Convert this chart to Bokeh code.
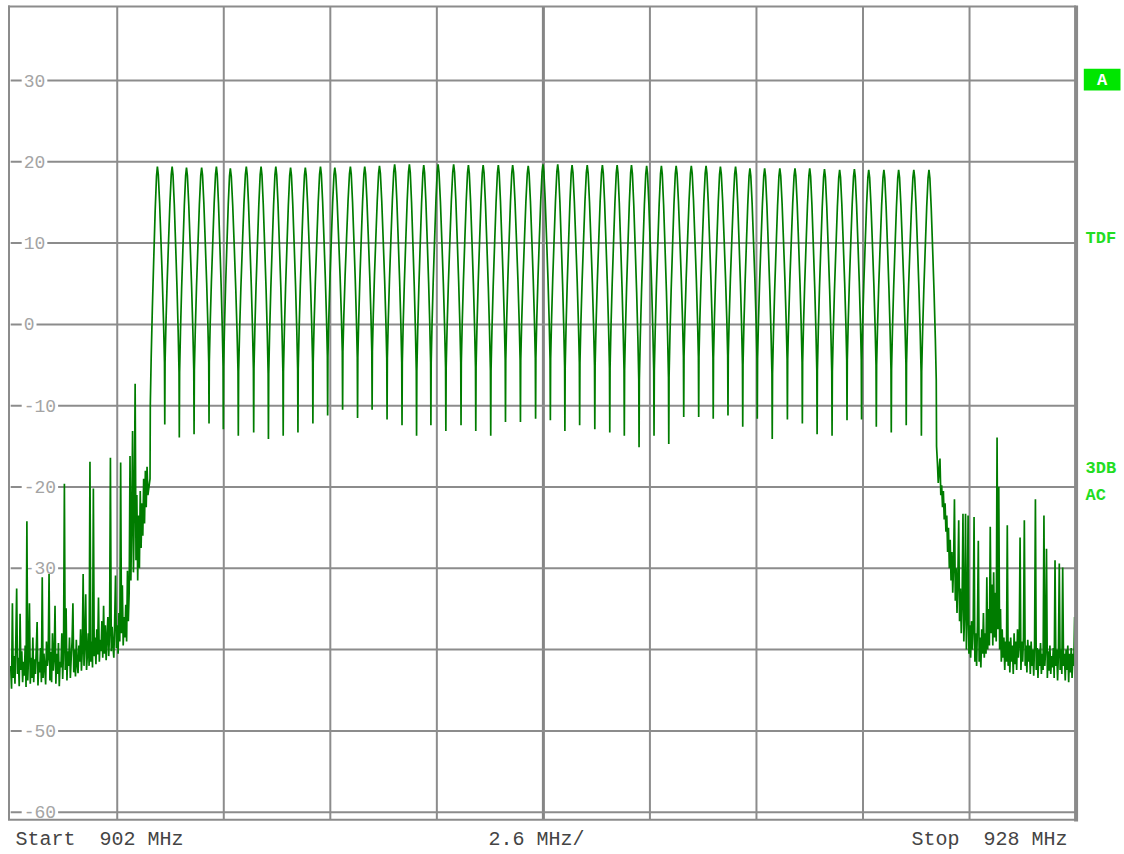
import numpy as np
from bokeh.plotting import figure
from bokeh.models import Range1d
from bokeh.core.properties import value
from bokeh.embed import file_html
from bokeh.resources import INLINE

# ---------------- data ----------------
f_start, f_stop = 902.0, 928.0
x_grid = [902.0, 904.6, 907.2, 909.8, 912.4, 915.0, 917.6, 920.2, 922.8, 925.4, 928.0]
y_ticks = [30, 20, 10, 0, -10, -20, -30, -50, -60]
y_tick_labels = ["30", "20", "10", "0", "-10", "-20", "-30", "-50", "-60"]
y_grid = [30, 20, 10, 0, -10, -20, -30, -40, -50, -60]

# channel centre frequencies (MHz) and peak levels (dB)
chan_mhz = [905.58, 905.94, 906.29, 906.66, 907.02, 907.36, 907.75, 908.11, 908.47, 908.83,
            909.19, 909.56, 909.91, 910.29, 910.64, 911.00, 911.37, 911.73, 912.08, 912.43,
            912.81, 913.17, 913.53, 913.90, 914.25, 914.63, 914.99, 915.35, 915.70, 916.07,
            916.44, 916.80, 917.15, 917.52, 917.88, 918.24, 918.61, 918.97, 919.32, 919.69,
            920.04, 920.40, 920.77, 921.14, 921.50, 921.86, 922.23, 922.59, 922.94, 923.31,
            923.67, 924.04, 924.41]
peak_db = [19.4, 19.4, 19.3, 19.3, 19.4, 19.2, 19.4, 19.4, 19.4, 19.3,
           19.3, 19.4, 19.3, 19.4, 19.4, 19.5, 19.7, 19.7, 19.6, 19.7,
           19.7, 19.6, 19.6, 19.6, 19.6, 19.5, 19.7, 19.7, 19.6, 19.6,
           19.6, 19.6, 19.6, 19.5, 19.5, 19.5, 19.5, 19.5, 19.4, 19.4,
           19.2, 19.2, 19.2, 19.2, 19.2, 19.1, 19.0, 19.1, 19.0, 19.0,
           19.0, 19.0, 19.0]
# nulls between neighbouring channels (dB)
null_db = [-12.3, -13.9, -13.5, -12.2, -12.9, -13.7, -13.3, -14.1, -13.7, -13.3,
           -12.2, -11.2, -10.5, -11.5, -10.5, -11.7, -12.4, -13.7, -12.4, -13.1,
           -12.4, -13.1, -13.7, -12.0, -12.0, -11.6, -11.8, -13.1, -12.4, -12.9,
           -13.3, -13.7, -15.1, -13.7, -14.7, -11.4, -11.4, -11.6, -11.2, -12.6,
           -11.6, -14.1, -11.7, -12.2, -13.5, -13.7, -11.8, -11.7, -12.6, -13.3,
           -12.4, -13.7]
edge_left_db = -19.0
edge_right_db = -15.0
# shape of one lobe: position (fraction of channel spacing) vs fraction of peak->null drop
lobe_pos = [0.06, 0.15, 0.25, 0.34, 0.42, 0.48]
lobe_frac = [0.03, 0.14, 0.30, 0.45, 0.61, 0.76]

sweep_step = 26.0 / 1250  # MHz between trace points
noise_left_db = [
    -42.0, -44.8, -34.3, -43.5, -40.8, -44.2, -39.0, -32.5, -43.0, -41.0,
    -44.5, -35.6, -42.5, -40.2, -44.0, -41.5, -43.2, -39.5, -44.6, -24.2,
    -43.8, -40.6, -34.3, -44.2, -41.0, -43.5, -38.5, -44.0, -41.2, -43.0,
    -40.0, -36.6, -44.4, -41.5, -42.8, -39.8, -44.0, -31.1, -43.5, -40.5,
    -42.2, -44.3, -39.0, -42.0, -41.0, -30.7, -43.8, -40.3, -44.0, -38.0,
    -42.6, -41.0, -34.6, -44.2, -40.5, -43.0, -39.2, -44.5, -41.5, -42.2,
    -38.0, -43.6, -40.0, -19.6, -42.5, -34.9, -43.8, -40.2, -42.0, -38.5,
    -43.5, -41.0, -39.0, -34.3, -42.8, -40.0, -43.3, -38.8, -41.8, -42.9,
    -39.5, -41.5, -37.5, -42.6, -40.0, -30.7, -42.0, -39.2, -33.2, -42.5,
    -40.5, -38.0, -42.0, -16.9, -41.5, -39.0, -42.2, -20.2, -40.8, -38.5,
    -41.8, -37.5, -40.6, -33.6, -41.5, -38.8, -40.2, -36.5, -41.0, -34.6,
    -40.5, -37.0, -41.3, -38.5, -36.0, -40.8, -38.0, -16.4, -40.2, -37.2,
    -39.5, -41.0, -36.5, -30.9, -39.8, -37.0, -40.5, -35.5, -39.0, -17.0,
    -38.0, -32.1, -39.5, -36.0, -38.5, -34.5, -39.0, -30.3, -36.5, -33.0,
    -16.2, -31.5, -24.0, -13.1, -30.5, -22.5, -7.3, -29.0, -21.0, -31.5,
    -23.5, -30.0, -20.5, -27.5, -22.0, -26.0, -19.0, -24.5, -18.0, -22.5,
    -17.5, -21.0]
noise_right_db = [
    -17.0, -19.5, -18.0, -16.5, -21.0, -19.8, -22.5, -20.5, -24.0, -22.0,
    -25.5, -23.5, -28.0, -25.0, -30.0, -26.5, -31.5, -28.0, -33.0, -29.5,
    -21.5, -34.0, -30.0, -35.5, -31.5, -24.1, -36.5, -32.5, -38.0, -34.0,
    -23.3, -39.0, -35.5, -23.3, -40.0, -36.0, -23.5, -40.5, -37.0, -41.0,
    -36.5, -40.0, -37.5, -23.7, -41.5, -38.0, -42.0, -37.0, -26.6, -41.5,
    -38.5, -42.2, -37.5, -40.5, -35.5, -41.0, -38.0, -40.5, -31.1, -40.0,
    -35.0, -39.5, -24.9, -38.0, -32.0, -39.5, -30.5, -38.5, -33.0, -39.0,
    -13.9, -37.5, -20.0, -40.0, -35.0, -41.5, -37.5, -41.0, -38.5, -42.5,
    -39.0, -41.5, -24.7, -42.0, -39.0, -42.8, -38.5, -41.5, -39.5, -43.0,
    -38.0, -41.8, -39.0, -42.5, -37.5, -41.0, -39.5, -26.2, -42.5, -39.0,
    -41.5, -38.5, -24.1, -42.0, -39.5, -42.8, -38.8, -41.5, -39.5, -43.0,
    -39.0, -42.0, -40.0, -43.2, -39.5, -21.5, -42.5, -39.8, -43.5, -40.0,
    -42.0, -39.2, -43.0, -40.5, -42.5, -23.5, -42.0, -40.0, -27.6, -43.5,
    -40.2, -42.6, -39.5, -43.0, -40.8, -42.2, -39.8, -43.5, -29.0, -42.0,
    -40.0, -43.8, -40.5, -29.4, -42.5, -40.0, -43.0, -29.9, -42.0, -40.5,
    -43.8, -40.0, -42.5, -39.5, -44.0, -40.5, -42.8, -39.8, -43.5, -40.5,
    -42.0, -36.0, -43.5, -40.5]

# ---------------- layout helpers (page pixels -> data) ----------------
W, H = 1124, 854
def px2x(px):
    return f_start + (px - 10.2) / 40.976
def py2y(py):
    return 30.0 - (py - 80.0) / 8.13

top_y = py2y(6)
bot_y = py2y(819.3)

p = figure(width=W, height=H, x_range=Range1d(px2x(0), px2x(W)),
           y_range=Range1d(py2y(H), py2y(0)),
           x_axis_type=None, y_axis_type=None, toolbar_location=None,
           output_backend="svg", min_border=0, outline_line_color=None,
           background_fill_color="white", border_fill_color="white")

GRID = "#8c8c8c"
# grid
inner_x = [v for v in x_grid[1:-1] if v != 915.0]
p.segment(x0=inner_x, y0=[bot_y] * len(inner_x), x1=inner_x, y1=[top_y] * len(inner_x),
          line_color=GRID, line_width=2)
p.segment(x0=[915.0], y0=[bot_y], x1=[915.0], y1=[top_y], line_color="#858585", line_width=3)
p.segment(x0=[f_start] * len(y_grid), y0=y_grid, x1=[f_stop] * len(y_grid), y1=y_grid,
          line_color=GRID, line_width=2)

# y tick labels inside the frame
p.text(x=[f_start] * len(y_ticks), y=y_ticks, text=y_tick_labels, x_offset=11,
       text_align="left", text_baseline="middle", text_font=value("Liberation Mono"),
       text_font_size="18px", text_color="#a4a4a4",
       background_fill_color="white", padding=2)

# ---------------- build trace ----------------
xs, ys = [], []
for i, v in enumerate(noise_left_db):
    xs.append(f_start + i * sweep_step)
    ys.append(v)
nulls = [edge_left_db] + null_db + [edge_right_db]
n = len(chan_mhz)
for k in range(n):
    c, P = chan_mhz[k], peak_db[k]
    hl = (c - chan_mhz[k - 1]) / 2 if k > 0 else (chan_mhz[1] - chan_mhz[0]) / 2
    hr = (chan_mhz[k + 1] - c) / 2 if k < n - 1 else (c - chan_mhz[k - 1]) / 2
    L, R = nulls[k], nulls[k + 1]
    if k == 0:
        xs.append(c - hl)
        ys.append(L)
    for pos, fr in reversed(list(zip(lobe_pos, lobe_frac))):
        xs.append(c - pos / 0.5 * hl)
        ys.append(P + (L - P) * fr)
    xs.append(c)
    ys.append(P)
    for pos, fr in zip(lobe_pos, lobe_frac):
        xs.append(c + pos / 0.5 * hr)
        ys.append(P + (R - P) * fr)
    xs.append(c + hr)
    ys.append(R)
x_last = xs[-1]
for j, v in enumerate(noise_right_db):
    xs.append(x_last + (j + 1) * sweep_step)
    ys.append(v)

p.line(xs, ys, line_color="#007c00", line_width=1.7, line_join="bevel")

# frame borders
p.segment(x0=[px2x(8.5)], y0=[bot_y], x1=[px2x(8.5)], y1=[py2y(5)], line_color=GRID, line_width=2)
p.segment(x0=[px2x(7.5)], y0=[top_y], x1=[f_stop], y1=[top_y], line_color=GRID, line_width=2)
p.segment(x0=[px2x(7.5)], y0=[bot_y], x1=[f_stop], y1=[bot_y], line_color=GRID, line_width=2)
p.segment(x0=[f_stop], y0=[py2y(821)], x1=[f_stop], y1=[py2y(5)], line_color="#8a8a8a", line_width=4)

# right side annotations
p.quad(left=[px2x(1083.3)], right=[px2x(1120)], top=[py2y(68.3)], bottom=[py2y(90)],
       fill_color="#00e600", line_color=None)
p.text(x=[px2x(1101.7)], y=[py2y(79.5)], text=["A"], text_align="center", text_baseline="middle",
       text_font=value("Liberation Mono"), text_font_style="bold", text_font_size="17px",
       text_color="white")
side_text = ["TDF", "3DB", "AC"]
side_px_y = [238.3, 468.3, 495.0]
p.text(x=[px2x(1085)] * 3, y=[py2y(v) for v in side_px_y], text=side_text,
       text_align="left", text_baseline="alphabetic", text_font=value("Liberation Mono"),
       text_font_style="bold", text_font_size="17px", text_color="#22dd22")

# bottom annotations
base = py2y(839)
NB = "\u00a0"
p.text(x=[px2x(15)], y=[base], text=["Start " + NB + "902 MHz"], text_align="left",
       text_baseline="alphabetic", text_font=value("Liberation Mono"),
       text_font_size="20px", text_color="#444444")
p.text(x=[px2x(488)], y=[base], text=["2.6 MHz/"], text_align="left",
       text_baseline="alphabetic", text_font=value("Liberation Mono"),
       text_font_size="20px", text_color="#444444")
p.text(x=[px2x(1067)], y=[base], text=["Stop " + NB + "928 MHz"], text_align="right",
       text_baseline="alphabetic", text_font=value("Liberation Mono"),
       text_font_size="20px", text_color="#444444")

open("out.html", "w").write(file_html(p, INLINE))
